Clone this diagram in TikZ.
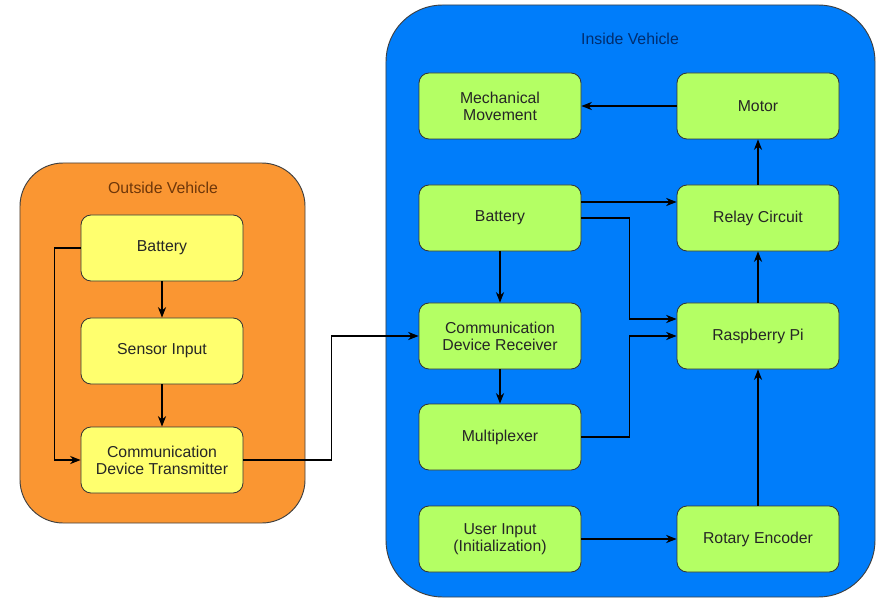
\documentclass[tikz,border=0pt]{standalone}
\usepackage{fontspec}
\setmainfont{Liberation Sans}
\usetikzlibrary{arrows.meta,calc}

\definecolor{orangebg}{RGB}{250,150,50}
\definecolor{bluebg}{RGB}{0,125,250}
\definecolor{yellowbox}{RGB}{255,255,110}
\definecolor{greenbox}{RGB}{180,255,100}
\definecolor{outtxt}{RGB}{110,55,10}
\definecolor{intxt}{RGB}{0,45,110}

\tikzset{
  group/.style={draw=black!75,line width=0.8pt,rounded corners=1.3cm},
  block/.style={draw=black!80,line width=0.7pt,rounded corners=0.3cm,
    minimum width=4.86cm,minimum height=1.98cm,align=center,
    font=\fontsize{13.5}{14.5}\selectfont,text=black!85},
  title/.style={font=\fontsize{13.5}{14.5}\selectfont}
}

\begin{document}
\begin{tikzpicture}[x=0.03cm,y=-0.03cm,->,>={Stealth[length=9pt,width=7pt]},line width=1pt]
\useasboundingbox (0,0) rectangle (877,599);

% containers
\node[group,fill=orangebg,minimum width=8.55cm,minimum height=10.8cm] (outside) at (162.5,343) {};
\node[group,fill=bluebg,rounded corners=1.7cm,minimum width=14.67cm,minimum height=17.76cm] (inside) at (630.5,301) {};
\node[title,text=outtxt] (outlbl) at (163,188) {Outside Vehicle};
\node[title,text=intxt] (inlbl) at (630,39) {Inside Vehicle};

% outside vehicle
\node[block,fill=yellowbox] (ob) at (162,248) {Battery};
\node[block,fill=yellowbox] (sens) at (162,351) {Sensor Input};
\node[block,fill=yellowbox] (tx) at (162,460) {Communication\\Device Transmitter};

% inside vehicle
\node[block,fill=greenbox] (mech) at (500,106) {Mechanical\\Movement};
\node[block,fill=greenbox] (motor) at (758,106) {Motor};
\node[block,fill=greenbox] (bat) at (500,218) {Battery};
\node[block,fill=greenbox] (relay) at (758,218) {Relay Circuit};
\node[block,fill=greenbox] (rx) at (500,336) {Communication\\Device Receiver};
\node[block,fill=greenbox] (rpi) at (758,336) {Raspberry Pi};
\node[block,fill=greenbox] (mux) at (500,437) {Multiplexer};
\node[block,fill=greenbox] (user) at (500,539) {User Input\\(Initialization)};
\node[block,fill=greenbox] (enc) at (758,539) {Rotary Encoder};

\draw (ob) -- (sens);
\draw (sens) -- (tx);
\draw (ob.west) -- ++(-26,0) |- (tx.west);
\draw (tx.east) -- ++(88,0) |- (rx.west);

\draw (motor) -- (mech);
\draw (relay) -- (motor);
\draw ($(bat.east)+(0,-16)$) coordinate (b1) -- (b1 -| relay.west);
\draw (bat.east) -- ++(48,0) |- ($(rpi.west)+(0,-17)$);
\draw (bat) -- (rx);
\draw (rx) -- (mux);
\draw (mux.east) -- ++(48,0) |- (rpi.west);
\draw (rpi) -- (relay);
\draw (enc) -- (rpi);
\draw (user) -- (enc);
\end{tikzpicture}
\end{document}
